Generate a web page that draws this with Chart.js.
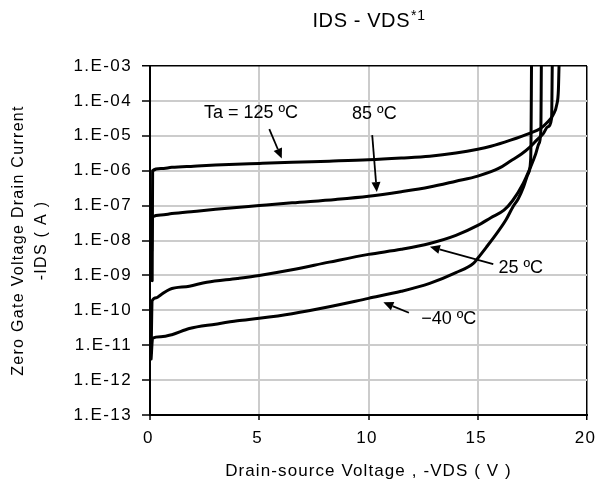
<!DOCTYPE html>
<html><head><meta charset="utf-8">
<script src="https://cdn.jsdelivr.net/npm/chart.js@4.4.1/dist/chart.umd.min.js"></script>
<style>html,body{margin:0;padding:0;background:#fff;}</style>
</head><body>
<canvas id="c" width="597" height="489" style="display:block;width:597px;height:489px"></canvas>
<script>
// ---- data ----
const vds125 = [0.1, 0.12, 0.5, 1, 2, 3, 5, 6.5, 8.2, 10, 11.5, 12.8, 14, 15, 15.6, 16.5, 17.4, 17.85, 18.2, 18.45, 18.62, 18.69, 18.72];
const ids125 = [7e-10, 1.0e-6, 1.15e-6, 1.25e-6, 1.35e-6, 1.45e-6, 1.62e-6, 1.75e-6, 1.88e-6, 2.05e-6, 2.3e-6, 2.6e-6, 3.2e-6, 4.1e-6, 5e-6, 7.5e-6, 1.2e-5, 1.6e-5, 2.5e-5, 4e-5, 8e-5, 2e-4, 1e-3];

const vds85 = [0.08, 0.12, 0.5, 1, 2, 3, 5, 6.5, 8.5, 10, 11.5, 12.8, 14, 15, 16, 16.5, 17, 17.4, 17.7, 18, 18.2, 18.38, 18.41];
const ids85 = [5e-9, 4.8e-8, 5.4e-8, 5.9e-8, 6.8e-8, 7.8e-8, 1.0e-7, 1.2e-7, 1.5e-7, 1.85e-7, 2.5e-7, 3.4e-7, 5e-7, 7e-7, 1.2e-6, 1.9e-6, 3e-6, 4.8e-6, 7.5e-6, 1.15e-5, 1.8e-5, 3.2e-5, 1e-3];

const vds25 = [0.05, 0.1, 0.3, 0.5, 0.9, 1.8, 2.6, 4, 5, 6.5, 8.2, 10, 11.5, 12.8, 14, 15, 15.6, 16.2, 16.6, 17.08, 17.4, 17.65, 17.8, 17.89, 17.91];
const ids25 = [6e-12, 1.9e-10, 2.3e-10, 2.8e-10, 4e-10, 4.9e-10, 6.4e-10, 8.2e-10, 1.0e-9, 1.45e-9, 2.4e-9, 4e-9, 5.6e-9, 8.2e-9, 1.4e-8, 2.7e-8, 4.5e-8, 7.4e-8, 1.4e-7, 4.3e-7, 1.2e-6, 3e-6, 6e-6, 1.5e-5, 1e-3];

const vdsM40 = [0.05, 0.12, 0.5, 1, 1.8, 3, 4, 5, 6.5, 8.2, 10, 11.5, 12.8, 14, 14.8, 15.0, 15.4, 15.87, 16.3, 16.6, 16.86, 17.1, 17.3, 17.42, 17.44, 17.46];
const idsM40 = [4e-12, 1.6e-11, 1.75e-11, 2e-11, 3e-11, 4e-11, 5e-11, 5.9e-11, 8e-11, 1.26e-10, 2.2e-10, 3.5e-10, 5.9e-10, 1.2e-9, 2.2e-9, 3.1e-9, 6.5e-9, 1.6e-8, 4e-8, 9e-8, 1.6e-7, 3.5e-7, 8e-7, 2e-6, 1e-5, 1e-3];

const yTickValues = [1e-13, 1e-12, 1e-11, 1e-10, 1e-9, 1e-8, 1e-7, 1e-6, 1e-5, 1e-4, 1e-3];
const yTickLabels = ['1.E-13', '1.E-12', '1.E-11', '1.E-10', '1.E-09', '1.E-08', '1.E-07', '1.E-06', '1.E-05', '1.E-04', '1.E-03'];
const xTickValues = [0, 5, 10, 15, 20];

const noteTexts = ['Ta = 125 ºC', '85 ºC', '25 ºC', '−40 ºC'];
const noteX = [4.62, 10.27, 16.97, 13.67];
const noteY = [4.57e-5, 4.27e-5, 1.66e-9, 5.75e-11];
const arrowFromX = [5.46, 10.17, 15.71, 11.85];
const arrowFromY = [1.55e-5, 1.05e-5, 2.09e-9, 8.5e-11];
const arrowToX = [6.03, 10.38, 12.81, 10.68];
const arrowToY = [2.24e-6, 2.45e-7, 6.6e-9, 1.7e-10];

const FONT = '"Liberation Sans", Arial, sans-serif';

function series(xs, ys) { return xs.map((v, i) => ({x: v, y: ys[i]})); }
function ds(label, xs, ys) {
  return {label, data: series(xs, ys), borderColor: '#000', borderWidth: 3, pointRadius: 0,
          fill: false, cubicInterpolationMode: 'monotone', borderCapStyle: 'round', borderJoinStyle: 'round'};
}
// wrap a scale draw method so its text is drawn with extra letter spacing
function spaced(s, method, sp) {
  if (s['_sp_' + method]) return;
  const orig = s[method];
  s[method] = function (...a) { const c = this.ctx; c.save(); c.letterSpacing = sp; orig.apply(this, a); c.restore(); };
  s['_sp_' + method] = true;
}

const notesPlugin = {
  id: 'notes',
  afterDatasetsDraw(chart) {
    const {ctx, scales: {x, y}} = chart;
    ctx.save();
    ctx.fillStyle = '#000'; ctx.strokeStyle = '#000';
    ctx.font = '18px ' + FONT;
    ctx.textAlign = 'center'; ctx.textBaseline = 'middle';
    noteTexts.forEach((t, i) => {
      ctx.fillText(t, x.getPixelForValue(noteX[i]), y.getPixelForValue(noteY[i]));
      const x1 = x.getPixelForValue(arrowFromX[i]), y1 = y.getPixelForValue(arrowFromY[i]);
      const x2 = x.getPixelForValue(arrowToX[i]), y2 = y.getPixelForValue(arrowToY[i]);
      const a = Math.atan2(y2 - y1, x2 - x1);
      const hl = 10, hw = 4.5;
      const bx = x2 - hl * Math.cos(a), by = y2 - hl * Math.sin(a);
      ctx.lineWidth = 1.8;
      ctx.beginPath(); ctx.moveTo(x1, y1); ctx.lineTo(bx, by); ctx.stroke();
      ctx.beginPath();
      ctx.moveTo(x2, y2);
      ctx.lineTo(bx + hw * Math.sin(a), by - hw * Math.cos(a));
      ctx.lineTo(bx - hw * Math.sin(a), by + hw * Math.cos(a));
      ctx.closePath(); ctx.fill();
    });
    ctx.restore();
  }
};

const titlePlugin = {
  id: 'mainTitle',
  afterDraw(chart) {
    const {ctx, chartArea: ca} = chart;
    ctx.save();
    ctx.fillStyle = '#000';
    ctx.letterSpacing = '0.6px';
    ctx.textAlign = 'left'; ctx.textBaseline = 'alphabetic';
    const main = 'IDS - VDS', sup = '*1';
    ctx.font = '20px ' + FONT; const w1 = ctx.measureText(main).width;
    ctx.font = '14px ' + FONT; const w2 = ctx.measureText(sup).width;
    const cx = (ca.left + ca.right) / 2 + 0.5;
    const x0 = cx - (w1 + w2 + 1) / 2;
    ctx.font = '20px ' + FONT; ctx.fillText(main, x0, 27);
    ctx.font = '14px ' + FONT; ctx.fillText(sup, x0 + w1 + 1, 20);
    ctx.restore();
  }
};

new Chart(document.getElementById('c'), {
  type: 'line',
  data: {datasets: [ds('125', vds125, ids125), ds('85', vds85, ids85), ds('25', vds25, ids25), ds('-40', vdsM40, idsM40)]},
  options: {
    responsive: false, animation: false, devicePixelRatio: 1,
    layout: {padding: {left: 0, right: 0, top: 66, bottom: 0}},
    plugins: {legend: {display: false}, title: {display: false}, tooltip: {enabled: false}},
    scales: {
      x: {
        type: 'linear', min: 0, max: 20,
        afterFit(s) { s.height = 74; s.paddingRight = 10; spaced(s, 'drawLabels', '1.4px'); spaced(s, 'drawTitle', '1.1px'); },
        afterBuildTicks(s) { s.ticks = xTickValues.map(v => ({value: v})); },
        grid: {color: c => (c.tick && c.tick.value === 20) ? '#000' : '#cccccc',
               lineWidth: c => (c.tick && c.tick.value === 20) ? 1.5 : 2,
               tickColor: '#000', tickWidth: 1.5, tickLength: 5},
        border: {display: true, color: '#000', width: 2},
        ticks: {font: {family: FONT, size: 17}, color: '#000', padding: 8, labelOffset: -1.5, maxRotation: 0,
                callback: v => String(v)},
        title: {display: true, text: 'Drain-source Voltage , -VDS ( V )', color: '#000',
                font: {family: FONT, size: 17, lineHeight: 1.2}, padding: {top: 0, bottom: 7}}
      },
      y: {
        type: 'logarithmic', min: 1e-13, max: 1e-3,
        afterFit(s) { s.width = 150; spaced(s, 'drawLabels', '1.4px'); spaced(s, 'drawTitle', '1.3px'); },
        afterBuildTicks(s) { s.ticks = yTickValues.map(v => ({value: v})); },
        grid: {color: c => (c.tick && c.tick.value === 1e-3) ? '#000' : '#cccccc',
               lineWidth: c => (c.tick && c.tick.value === 1e-3) ? 1.5 : 2,
               tickColor: '#000', tickWidth: 1.5, tickLength: 8},
        border: {display: true, color: '#000', width: 2},
        ticks: {font: {family: FONT, size: 17}, color: '#000', padding: 10, autoSkip: false,
                callback: (v, i) => yTickLabels[i]},
        title: {display: true, text: ['Zero Gate Voltage Drain Current', '-IDS ( A )'], color: '#000',
                font: {family: FONT, size: 16, lineHeight: 1.44}, padding: {top: 7, bottom: 0}}
      }
    }
  },
  plugins: [notesPlugin, titlePlugin]
});
</script>
</body></html>
